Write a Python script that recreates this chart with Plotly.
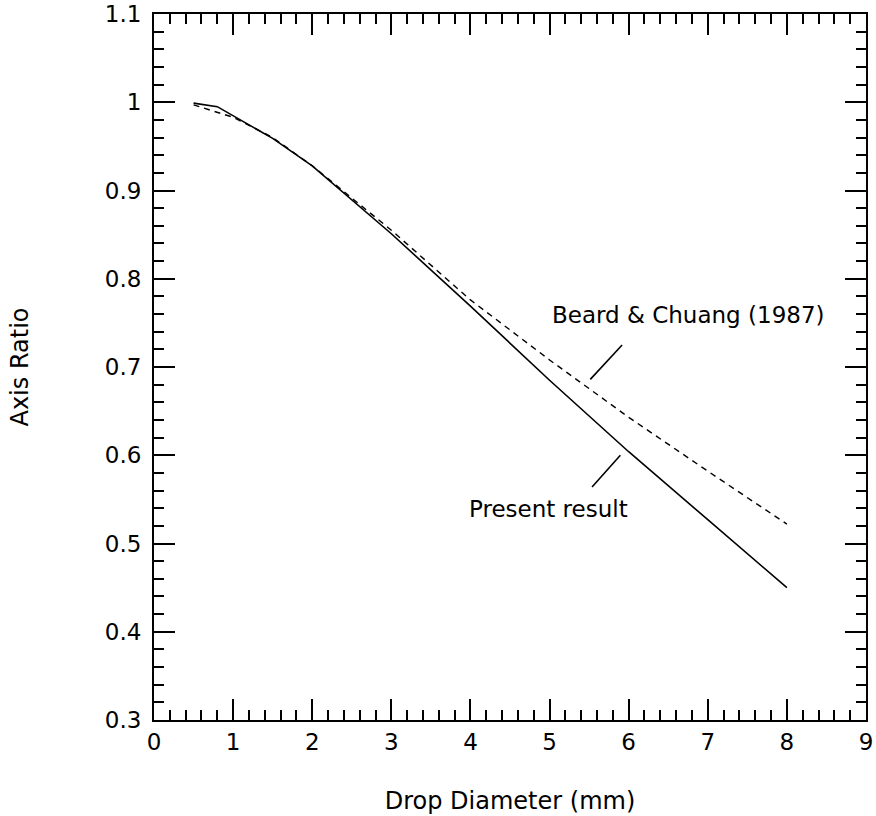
import plotly.graph_objects as go

# Drop diameter (mm) and axis ratio for both curves
present_d = [0.5, 0.8, 1.5, 2.0, 3.0, 4.0, 5.0, 6.0, 7.0, 8.0]
present_ratio = [0.999, 0.995, 0.959, 0.928, 0.851, 0.769, 0.685, 0.604, 0.527, 0.450]

beard_d = [0.5, 0.8, 1.0, 1.5, 2.0, 3.0, 4.0, 5.0, 6.0, 7.0, 8.0]
beard_ratio = [0.997, 0.989, 0.983, 0.960, 0.928, 0.855, 0.776, 0.708, 0.643, 0.582, 0.522]

x_ticks = [0, 1, 2, 3, 4, 5, 6, 7, 8, 9]
y_ticks = [0.3, 0.4, 0.5, 0.6, 0.7, 0.8, 0.9, 1.0, 1.1]
y_tick_text = ["0.3", "0.4", "0.5", "0.6", "0.7", "0.8", "0.9", "1", "1.1"]

FONT = "DejaVu Sans"

fig = go.Figure()
fig.add_trace(go.Scatter(x=present_d, y=present_ratio, mode="lines",
                         line=dict(color="black", width=1.6), showlegend=False))
fig.add_trace(go.Scatter(x=beard_d, y=beard_ratio, mode="lines",
                         line=dict(color="black", width=1.4, dash="6px,5px"),
                         showlegend=False))

# Leader lines for the curve labels
fig.add_shape(type="line", x0=5.917, y0=0.725, x1=5.515, y1=0.686,
              line=dict(color="black", width=1.6))
fig.add_shape(type="line", x0=5.895, y0=0.600, x1=5.537, y1=0.564,
              line=dict(color="black", width=1.6))

fig.add_annotation(x=6.755, y=0.759, text="Beard &amp; Chuang (1987)", showarrow=False,
                   font=dict(family=FONT, size=23, color="black"))
fig.add_annotation(x=4.984, y=0.539, text="Present result", showarrow=False,
                   font=dict(family=FONT, size=23, color="black"))

axis_common = dict(
    showgrid=False, zeroline=False, showline=True, linecolor="black", linewidth=2,
    mirror="ticks", ticks="inside", ticklen=21, tickwidth=2, tickcolor="black",
    tickfont=dict(family=FONT, size=23, color="black"),
)

fig.update_xaxes(range=[0, 9], tickvals=x_ticks,
                 minor=dict(ticks="inside", ticklen=10, tickwidth=2, dtick=0.2,
                            tick0=0, tickcolor="black"),
                 title=dict(text="Drop Diameter (mm)", standoff=39,
                            font=dict(family=FONT, size=24, color="black")),
                 **axis_common)
fig.update_yaxes(range=[0.3, 1.1], tickvals=y_ticks, ticktext=y_tick_text,
                 ticklabelstandoff=6,
                 minor=dict(ticks="inside", ticklen=10, tickwidth=2, dtick=0.02,
                            tick0=0.3, tickcolor="black"),
                 title=dict(text="Axis Ratio", standoff=69,
                            font=dict(family=FONT, size=24, color="black")),
                 **axis_common)

fig.update_layout(
    width=876, height=816,
    margin=dict(l=154, r=10, t=14, b=96, autoexpand=False),
    plot_bgcolor="white", paper_bgcolor="white",
    font=dict(family=FONT, color="black"),
)

fig.write_html("out.html")
